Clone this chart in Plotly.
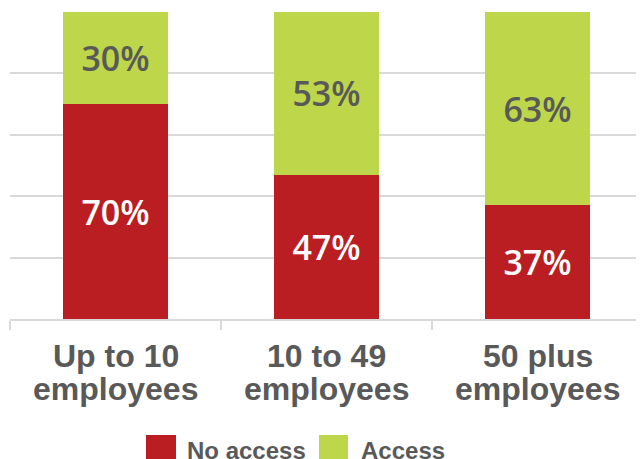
import plotly.graph_objects as go

categories = ["Up to 10 employees", "10 to 49 employees", "50 plus employees"]
label_line1 = ["Up to 10", "10 to 49", "50 plus"]
label_line2 = ["employees", "employees", "employees"]
no_access = [70, 47, 37]
access = [30, 53, 63]
series_names = ["No access", "Access"]
red = "#BA1E22"
green = "#BDD64A"
grey = "#595959"

fig = go.Figure()
fig.add_trace(go.Bar(
    x=categories, y=no_access, name=series_names[0], marker=dict(color=red, line=dict(width=0)),
    texttemplate="%{y}%", textposition="inside", insidetextanchor="middle", textangle=0,
    textfont=dict(family="Open Sans", size=34, color="white", weight=600),
    showlegend=False,
))
fig.add_trace(go.Bar(
    x=categories, y=access, name=series_names[1], marker=dict(color=green, line=dict(width=0)),
    texttemplate="%{y}%", textposition="inside", insidetextanchor="middle", textangle=0,
    textfont=dict(family="Open Sans", size=34, color=grey, weight=600),
    showlegend=False,
))

# plot area in figure pixels
PX0, PX1, PY0, PY1 = 2, 635, 4, 311

def px(x):
    return (x - PX0) / (PX1 - PX0)

def py(y):
    return (PY1 - y) / (PY1 - PY0)

# category labels (two lines each, tight spacing)
for cat, l1, l2 in zip(categories, label_line1, label_line2):
    for txt, yc in ((l1, 348), (l2, 381)):
        fig.add_annotation(xref="x", yref="paper", x=cat, y=py(yc), text=txt,
                           showarrow=False, xanchor="center", yanchor="middle",
                           font=dict(family="Liberation Sans", size=32, color=grey, weight="bold"))

# manual legend (large square swatches)
legend_items = [(138, 168, 177, series_names[0], red), (311, 340, 351, series_names[1], green)]
for x0, x1, tx, name, col in legend_items:
    fig.add_shape(type="rect", xref="paper", yref="paper",
                  x0=px(x0), x1=px(x1), y0=py(457), y1=py(427),
                  fillcolor=col, line=dict(width=0))
    fig.add_annotation(xref="paper", yref="paper", x=px(tx), y=py(442),
                       text=name, showarrow=False, xanchor="left", yanchor="middle",
                       font=dict(family="Liberation Sans", size=24, color=grey, weight="bold"))

fig.update_layout(
    barmode="stack",
    bargap=0.5,
    width=644, height=459,
    margin=dict(l=PX0, r=644 - PX1, t=PY0, b=459 - PY1, pad=0),
    paper_bgcolor="white", plot_bgcolor="white",
    showlegend=False,
    xaxis=dict(
        showline=True, linecolor="#d9d9d9", linewidth=1.5,
        ticks="outside", tickson="boundaries", ticklen=9, tickcolor="#d9d9d9", tickwidth=1.5,
        showticklabels=False,
    ),
    yaxis=dict(
        range=[0, 100], dtick=20, showticklabels=False, showgrid=True,
        gridcolor="#d9d9d9", gridwidth=1.5, zeroline=False,
    ),
)

fig.write_html("out.html")
